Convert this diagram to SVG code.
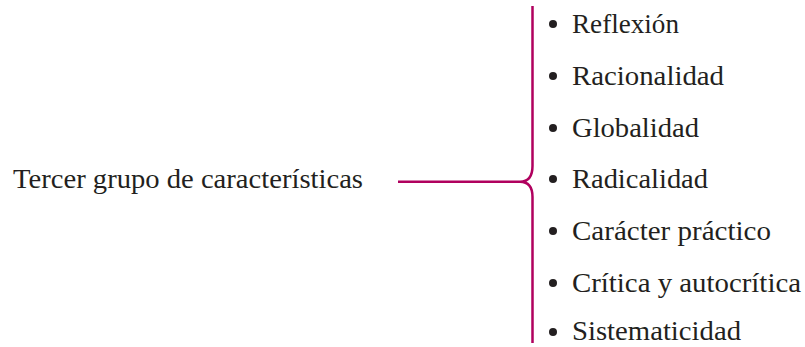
<svg xmlns="http://www.w3.org/2000/svg" width="805" height="347" viewBox="0 0 805 347">
<style>
text{font-family:"Liberation Serif","Times New Roman",serif;font-size:28px;fill:#231f20}
.c{fill:none;stroke:#b0005e;stroke-width:2.5}
.b{fill:#231f20}
</style>
<rect width="805" height="347" fill="#fff"/>
<g id="root"><text x="13" y="188" textLength="350" lengthAdjust="spacingAndGlyphs">Tercer grupo de características</text></g>
<g id="connectors">
<path class="c" d="M398 181.7H520"/>
<path class="c" d="M532.5 6V166Q532.5 181.7 520 181.7Q532.5 181.7 532.5 197V343"/>
</g>
<g id="items">
<g id="i1"><circle class="b" cx="553" cy="24" r="4"/><text x="572" y="33" textLength="107" lengthAdjust="spacingAndGlyphs">Reflexión</text></g>
<g id="i2"><circle class="b" cx="553" cy="76" r="4"/><text x="572" y="85" textLength="152" lengthAdjust="spacingAndGlyphs">Racionalidad</text></g>
<g id="i3"><circle class="b" cx="553" cy="128" r="4"/><text x="572" y="137" textLength="127" lengthAdjust="spacingAndGlyphs">Globalidad</text></g>
<g id="i4"><circle class="b" cx="553" cy="179" r="4"/><text x="572" y="188" textLength="136" lengthAdjust="spacingAndGlyphs">Radicalidad</text></g>
<g id="i5"><circle class="b" cx="553" cy="231" r="4"/><text x="572" y="240" textLength="199" lengthAdjust="spacingAndGlyphs">Carácter práctico</text></g>
<g id="i6"><circle class="b" cx="553" cy="283" r="4"/><text x="572" y="292" textLength="229" lengthAdjust="spacingAndGlyphs">Crítica y autocrítica</text></g>
<g id="i7"><circle class="b" cx="553" cy="332" r="4"/><text x="572" y="340" font-size="27" textLength="169" lengthAdjust="spacingAndGlyphs">Sistematicidad</text></g>
</g>
</svg>
